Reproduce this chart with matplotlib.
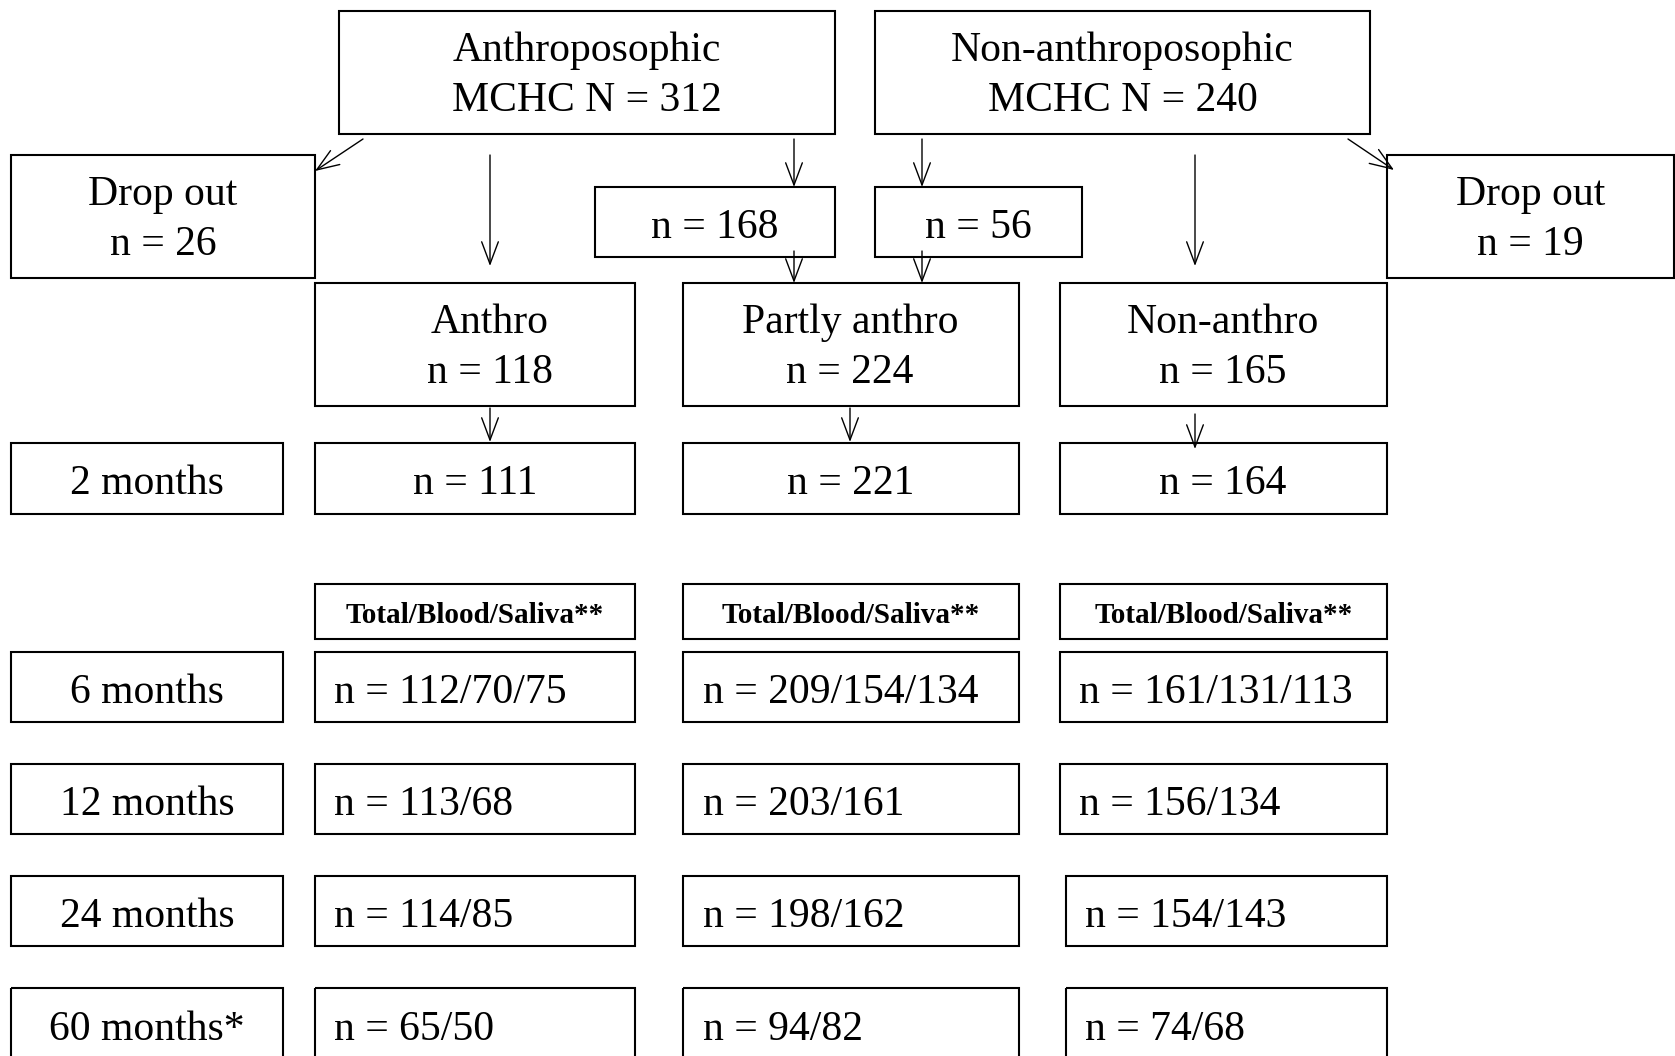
import matplotlib.pyplot as plt
from matplotlib.patches import Rectangle

# data
centres = ['Anthroposophic', 'Non-anthroposophic']
centre_n = [312, 240]
dropout_n = [26, 19]
switch_n = [168, 56]
groups = ['Anthro', 'Partly anthro', 'Non-anthro']
group_n = [118, 224, 165]
timepoints = ['2 months', '6 months', '12 months', '24 months', '60 months*']
anthro_n = ['111', '112/70/75', '113/68', '114/85', '65/50']
partly_n = ['221', '209/154/134', '203/161', '198/162', '94/82']
nonanthro_n = ['164', '161/131/113', '156/134', '154/143', '74/68']
header = 'Total/Blood/Saliva**'

plt.rcParams['font.family'] = ['Liberation Serif', 'DejaVu Serif']
FS = 30

fig = plt.figure(figsize=(16.75, 10.56), dpi=100)
ax = fig.add_axes([0, 0, 1, 1])
ax.set_xlim(0, 1675)
ax.set_ylim(1056, 0)
ax.axis('off')


def box(x0, x1, y0, y1, text=None, tx=None, ha='center', size=FS, weight='normal'):
    ax.add_patch(Rectangle((x0, y0), x1 - x0, y1 - y0, fill=False,
                           lw=1.5, ec='black'))
    if text is not None:
        if tx is None:
            tx = (x0 + x1) / 2
        if '\n' in text:
            ax.text(tx, (y0 + y1) / 2 + 3, text, ha=ha, va='center',
                    fontsize=size, weight=weight, linespacing=1.4)
        else:
            ax.text(tx, (y0 + y1) / 2 + 1, text, ha=ha, va='center_baseline',
                    fontsize=size, weight=weight)


def arrow(x0, y0, x1, y1):
    ax.annotate('', xy=(x1, y1), xytext=(x0, y0),
                arrowprops=dict(arrowstyle='->, head_length=0.8, head_width=0.3',
                                mutation_scale=20, lw=1.0, color='black',
                                shrinkA=0, shrinkB=0))


# top level
box(339, 835, 11, 134, f'{centres[0]}\nMCHC N = {centre_n[0]}')
box(875, 1370, 11, 134, f'{centres[1]}\nMCHC N = {centre_n[1]}')
box(11, 315, 155, 278, f'Drop out\nn = {dropout_n[0]}')
box(1387, 1674, 155, 278, f'Drop out\nn = {dropout_n[1]}')
box(595, 835, 187, 257, f'n = {switch_n[0]}')
box(875, 1082, 187, 257, f'n = {switch_n[1]}')

# groups
box(315, 635, 283, 406, f'{groups[0]}\nn = {group_n[0]}', tx=490)
box(683, 1019, 283, 406, f'{groups[1]}\nn = {group_n[1]}', tx=850)
box(1060, 1387, 283, 406, f'{groups[2]}\nn = {group_n[2]}', tx=1223)

# arrows
arrow(363, 139, 315, 171)
arrow(1348, 139, 1394, 170)
arrow(490, 155, 490, 266)
arrow(1195, 155, 1195, 266)
arrow(794, 139, 794, 187)
arrow(922, 139, 922, 187)
arrow(794, 251, 794, 283)
arrow(922, 251, 922, 283)
arrow(490, 408, 490, 442)
arrow(850, 408, 850, 442)
arrow(1195, 414, 1195, 449)

# timepoint rows
rows = [(443, 514), (652, 722), (764, 834), (876, 946), (988, 1060)]
for i, (y0, y1) in enumerate(rows):
    box(11, 283, y0, y1, timepoints[i])
    nx0 = 1060 if i < 3 else 1066
    if i == 0:
        box(315, 635, y0, y1, f'n = {anthro_n[i]}')
        box(683, 1019, y0, y1, f'n = {partly_n[i]}')
        box(nx0, 1387, y0, y1, f'n = {nonanthro_n[i]}', tx=1223)
    else:
        box(315, 635, y0, y1, f'n = {anthro_n[i]}', tx=334, ha='left')
        box(683, 1019, y0, y1, f'n = {partly_n[i]}', tx=703, ha='left')
        box(nx0, 1387, y0, y1, f'n = {nonanthro_n[i]}', tx=nx0 + 19, ha='left')

# header boxes
for x0, x1 in [(315, 635), (683, 1019), (1060, 1387)]:
    box(x0, x1, 584, 639, header, size=21, weight='bold')

fig.savefig('out.png', dpi=100)
